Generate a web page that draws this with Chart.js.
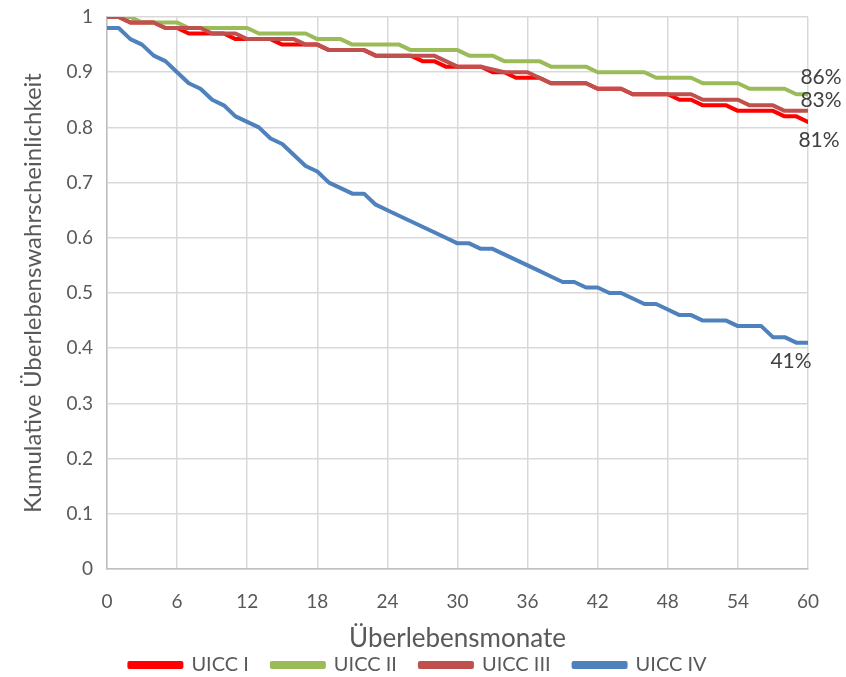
<!DOCTYPE html>
<html>
<head>
<meta charset="utf-8">
<script src="https://cdn.jsdelivr.net/npm/chart.js@4/dist/chart.umd.min.js"></script>
<style>
  html, body { margin: 0; padding: 0; background: #fff; }
  #wrap { width: 846px; height: 677px; }
</style>
</head>
<body>
<div id="wrap"><canvas id="chart"></canvas></div>
<script>
// months 0..60
const months = [0,1,2,3,4,5,6,7,8,9,10,11,12,13,14,15,16,17,18,19,20,21,22,23,24,25,26,27,28,29,30,
  31,32,33,34,35,36,37,38,39,40,41,42,43,44,45,46,47,48,49,50,51,52,53,54,55,56,57,58,59,60];

const uicc1 = [1,1,.99,.99,.99,.98,.98,.97,.97,.97,.97,.96,.96,.96,.96,.95,.95,.95,.95,.94,.94,.94,.94,.93,.93,.93,.93,.92,.92,.91,.91,
  .91,.91,.90,.90,.89,.89,.89,.88,.88,.88,.88,.87,.87,.87,.86,.86,.86,.86,.85,.85,.84,.84,.84,.83,.83,.83,.83,.82,.82,.81];
const uicc2 = [1,1,1,.99,.99,.99,.99,.98,.98,.98,.98,.98,.98,.97,.97,.97,.97,.97,.96,.96,.96,.95,.95,.95,.95,.95,.94,.94,.94,.94,.94,
  .93,.93,.93,.92,.92,.92,.92,.91,.91,.91,.91,.90,.90,.90,.90,.90,.89,.89,.89,.89,.88,.88,.88,.88,.87,.87,.87,.87,.86,.86];
const uicc3 = [1,1,.99,.99,.99,.98,.98,.98,.98,.97,.97,.97,.96,.96,.96,.96,.96,.95,.95,.94,.94,.94,.94,.93,.93,.93,.93,.93,.93,.92,.91,
  .91,.91,.905,.90,.90,.90,.89,.88,.88,.88,.88,.87,.87,.87,.86,.86,.86,.86,.86,.86,.85,.85,.85,.85,.84,.84,.84,.83,.83,.83];
const uicc4 = [.98,.98,.96,.95,.93,.92,.90,.88,.87,.85,.84,.82,.81,.80,.78,.77,.75,.73,.72,.70,.69,.68,.68,.66,.65,.64,.63,.62,.61,.60,.59,
  .59,.58,.58,.57,.56,.55,.54,.53,.52,.52,.51,.51,.50,.50,.49,.48,.48,.47,.46,.46,.45,.45,.45,.44,.44,.44,.42,.42,.41,.41];

const seriesNames = ['UICC I', 'UICC II', 'UICC III', 'UICC IV'];
const seriesColors = ['#FF0000', '#9BBB59', '#C0504D', '#4F81BD'];
const endLabels = ['81%', '86%', '83%', '41%'];
const yTickLabels = ['0', '0.1', '0.2', '0.3', '0.4', '0.5', '0.6', '0.7', '0.8', '0.9', '1'];
const xTickLabels = ['0', '6', '12', '18', '24', '30', '36', '42', '48', '54', '60'];

const FONT = 'Lato, "Noto Sans", sans-serif';
const TEXT = '#595959';

// offsets of the end labels from the last point of each line
const labelOffsets = [[11, 18], [13, -17], [13, -11], [-17, 19]];

const endLabelPlugin = {
  id: 'endLabels',
  afterDatasetsDraw(chart) {
    const ctx = chart.ctx;
    ctx.save();
    ctx.font = '21px ' + FONT;
    ctx.fillStyle = '#404040';
    ctx.textAlign = 'center';
    ctx.textBaseline = 'middle';
    chart.data.datasets.forEach((ds, i) => {
      const pts = chart.getDatasetMeta(i).data;
      const p = pts[pts.length - 1];
      ctx.fillText(endLabels[i], p.x + labelOffsets[i][0], p.y + labelOffsets[i][1]);
    });
    ctx.restore();
  }
};

const datasets = [uicc1, uicc2, uicc3, uicc4].map((vals, i) => ({
  label: seriesNames[i],
  data: months.map((m, j) => ({ x: m, y: vals[j] })),
  borderColor: seriesColors[i],
  backgroundColor: seriesColors[i],
  borderWidth: 4,
  pointRadius: 0,
  tension: 0,
  borderJoinStyle: 'round',
  borderCapStyle: 'round',
  order: 4 - i // later series drawn on top, like the original
}));

new Chart(document.getElementById('chart'), {
  type: 'line',
  data: { datasets: datasets },
  options: {
    responsive: true,
    maintainAspectRatio: false,
    animation: false,
    layout: { padding: { top: 17, right: 10, left: 0, bottom: -8 } },
    plugins: {
      tooltip: { enabled: false },
      legend: {
        position: 'bottom',
        labels: {
          sort: (a, b) => a.datasetIndex - b.datasetIndex,
          boxWidth: 52,
          boxHeight: 4,
          padding: 23,
          color: TEXT,
          font: { family: FONT, size: 20 }
        }
      }
    },
    scales: {
      x: {
        type: 'linear',
        min: 0,
        max: 60,
        ticks: {
          stepSize: 6,
          color: TEXT,
          font: { family: FONT, size: 19 },
          padding: 21,
          callback: (v) => xTickLabels[v / 6]
        },
        grid: { color: '#D9D9D9', lineWidth: 1.5, drawTicks: false },
        border: { color: '#BFBFBF', width: 1.5 },
        // title sits below the scale box, over the legend's top padding
        title: { display: true, text: 'Überlebensmonate', color: TEXT, font: { family: FONT, size: 26 }, padding: { top: 0, bottom: -22 } },
        afterFit: (s) => { s.height = 63; s.paddingRight = 38; }
      },
      y: {
        min: 0,
        max: 1,
        ticks: {
          stepSize: 0.1,
          color: TEXT,
          font: { family: FONT, size: 19 },
          padding: 14,
          callback: (v) => yTickLabels[Math.round(v * 10)]
        },
        grid: { color: '#D9D9D9', lineWidth: 1.5, drawTicks: false },
        border: { color: '#BFBFBF', width: 1.5 },
        title: { display: true, text: 'Kumulative Überlebenswahrscheinlichkeit', color: TEXT, font: { family: FONT, size: 24 }, padding: { top: 19, bottom: 0 } },
        afterFit: (s) => { s.width = 107; s.paddingTop = 0; s.paddingBottom = 0; }
      }
    }
  },
  plugins: [endLabelPlugin]
});
</script>
</body>
</html>
